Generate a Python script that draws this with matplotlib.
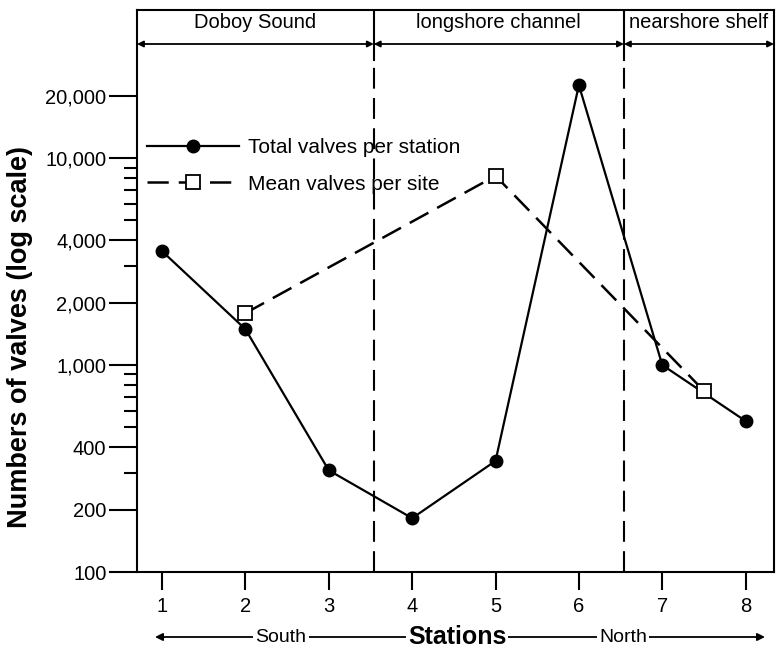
import matplotlib
matplotlib.use("Agg")
import matplotlib.pyplot as plt
from matplotlib.ticker import FixedLocator, FixedFormatter, NullFormatter

plt.rcParams['font.family'] = ['Liberation Sans', 'DejaVu Sans']

# data
stations = [1, 2, 3, 4, 5, 6, 7, 8]
total_valves = [3550, 1490, 310, 182, 344, 22500, 1000, 536]
mean_x = [2, 5, 7.5]
mean_valves = [1780, 8200, 750]

regions = ["Doboy Sound", "longshore channel", "nearshore shelf"]
region_edges = [0.7, 3.54, 6.54, 8.34]

y_major = [100, 200, 400, 1000, 2000, 4000, 10000, 20000]
y_major_labels = ["100", "200", "400", "1,000", "2,000", "4,000", "10,000", "20,000"]
y_minor = [300, 500, 600, 700, 800, 900, 3000, 5000, 6000, 7000, 8000, 9000]

fig = plt.figure(figsize=(7.76, 6.53), dpi=100)
ax = fig.add_axes([137 / 776, 81 / 653, 637 / 776, 562 / 653])

ax.set_yscale('log')
ax.set_xlim(region_edges[0], region_edges[-1])
ax.set_ylim(100, 51900)

# series
ax.plot(stations, total_valves, color='black', lw=1.6, marker='o', ms=9,
        mfc='black', mec='black', label="Total valves per station", zorder=3)
ax.plot(mean_x, mean_valves, color='black', lw=1.8, dashes=(8.5, 4),
        marker='s', ms=10, mfc='white', mec='black', mew=1.3,
        label="Mean valves per site", zorder=4)

# region separators: solid in header, dashed below
split = (572 - 60) / 562
for xe in region_edges[1:-1]:
    ax.axvline(xe, ymin=split, ymax=1, color='black', lw=1.5, zorder=2)
    ax.axvline(xe, ymin=0, ymax=split, color='black', lw=1.5,
               dashes=(10, 4.5), zorder=2)

# header arrows and names
arrow_y = (572 - 44) / 562
text_y = (572 - 23) / 562
trans = ax.get_xaxis_transform()
for i, name in enumerate(regions):
    x0, x1 = region_edges[i], region_edges[i + 1]
    ax.annotate("", xy=(x0, arrow_y), xytext=(x1, arrow_y), xycoords=trans,
                textcoords=trans,
                arrowprops=dict(arrowstyle='<|-|>', lw=1.3, color='black',
                                shrinkA=0, shrinkB=0, mutation_scale=9))
    ax.text((x0 + x1) / 2, text_y, name, transform=trans, ha='center',
            va='center', fontsize=14.5)

# axes styling
for s in ax.spines.values():
    s.set_linewidth(1.5)

ax.yaxis.set_major_locator(FixedLocator(y_major))
ax.yaxis.set_major_formatter(FixedFormatter(y_major_labels))
ax.yaxis.set_minor_locator(FixedLocator(y_minor))
ax.yaxis.set_minor_formatter(NullFormatter())
ax.tick_params(axis='y', which='major', direction='out', length=20, width=1.5,
               pad=2, labelsize=14.5)
ax.tick_params(axis='y', which='minor', direction='out', length=9.5, width=1.5)
ax.set_xticks(stations)
ax.tick_params(axis='x', direction='out', length=13, width=1.5, pad=5,
               labelsize=14.5)

ax.set_ylabel("Numbers of valves (log scale)", fontsize=19.5, fontweight='bold')
ax.yaxis.set_label_coords(-0.163, 0.418)

leg = ax.legend(loc='upper left', bbox_to_anchor=(147 / 776, (653 - 138) / 653),
                bbox_transform=fig.transFigure, frameon=False, fontsize=15,
                handlelength=4.4, handletextpad=0.45, labelspacing=0.85,
                borderpad=0, borderaxespad=0, numpoints=1)

# south / stations / north line below the axis
yb = (653 - 637) / 653
ax.annotate("", xy=(155 / 776, yb), xytext=(765 / 776, yb),
            xycoords='figure fraction', textcoords='figure fraction',
            arrowprops=dict(arrowstyle='<|-|>', lw=1.3, color='black',
                            shrinkA=0, shrinkB=0, mutation_scale=11))
box = dict(facecolor='white', edgecolor='none', pad=1.5)
fig.text(281 / 776, yb, "South", ha='center', va='center', fontsize=14, bbox=box)
fig.text(457 / 776, yb, "Stations", ha='center', va='center', fontsize=18,
         fontweight='bold', bbox=box)
fig.text(623 / 776, yb, "North", ha='center', va='center', fontsize=14, bbox=box)

fig.savefig("out.png", dpi=100)
